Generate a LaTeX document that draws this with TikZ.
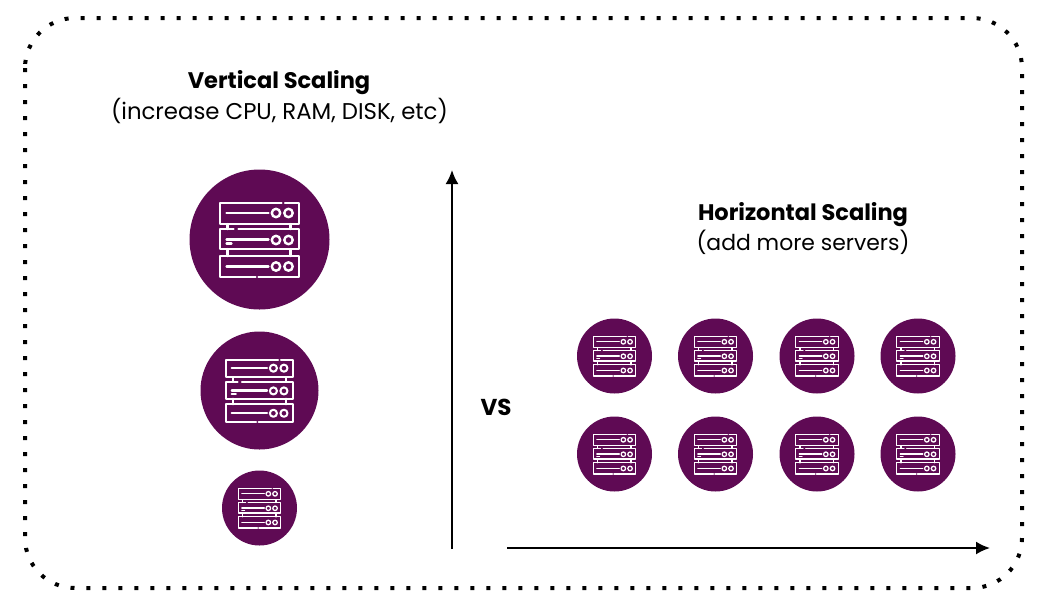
\documentclass[tikz,border=0pt]{standalone}
\usepackage{fontspec}
\setmainfont{Poppins}
\usetikzlibrary{arrows.meta}
\definecolor{plum}{HTML}{5F0A54}
\tikzset{
  plumdisc/.style={circle,fill=plum,draw=none,inner sep=0pt},
  frameline/.style={draw=black,line width=4pt,dash pattern=on 4pt off 12pt},
  axisline/.style={draw=black,line width=2pt,-{Latex[length=14pt,width=13pt]}},
  title/.style={font=\fontsize{22.5}{26}\selectfont\bfseries,inner sep=0pt},
  subtitle/.style={font=\fontsize{22.6}{26}\selectfont,inner sep=0pt},
  iconline/.style={draw=white,line cap=round,line join=round}
}
\newcommand{\serverdisc}[4]{% name, x, y, radius
  \node[plumdisc,minimum size=#4*2pt] (#1) at (#2,#3) {};
  \pgfmathsetmacro{\iconk}{#4/70}
  \begin{scope}[shift={(#1.center)},scale=\iconk,iconline,line width=\iconk*2.4pt]
    % row outlines, each with its small gap
    \draw (25.5,-36.5) -- (39.5,-36.5) -- (39.5,-15.5) -- (-39.5,-15.5) -- (-39.5,-36.5) -- (22,-36.5);
    \draw (-21,-10.5) -- (39.5,-10.5) -- (39.5,9.5) -- (-39.5,9.5) -- (-39.5,-10.5) -- (-26,-10.5);
    \draw (-1,37.5) -- (39.5,37.5) -- (39.5,16.5) -- (-39.5,16.5) -- (-39.5,37.5) -- (-4,37.5);
    % links between rows
    \draw (-32,-15.5) -- (-32,-10.5) (31,-15.5) -- (31,-10.5);
    \draw (-32,9.5) -- (-32,16.5) (31,9.5) -- (31,16.5);
    % bars
    \draw (-33,-26.5) -- (9,-26.5);
    \draw (-33,0) -- (9,0) (-33,4) -- (-28,4);
    \draw (-33,27) -- (9,27);
    % knobs
    \foreach \ky in {-26.5,0.5,27}{
      \draw (16.5,\ky) circle[radius=4.2];
      \draw (29,\ky) circle[radius=4.2];
    }
  \end{scope}
}
\begin{document}
\begin{tikzpicture}[x=1pt,y=-1pt]
\useasboundingbox (0,0) rectangle (1048,611);
\draw[frameline,rounded corners=50pt] (25,18) rectangle (1022,588);

\node[title] (vtitle) at (279,82.5) {Vertical Scaling};
\node[font=\fontsize{22.8}{26}\selectfont,inner sep=0pt] (vsub) at (279.5,110.5) {(increase CPU, RAM, DISK, etc)};
\node[title] (htitle) at (803,214.5) {Horizontal Scaling};
\node[font=\fontsize{21.9}{26}\selectfont,inner sep=0pt] (hsub) at (803,242.5) {(add more servers)};
\node[font=\fontsize{23}{26}\selectfont\bfseries,inner sep=0pt] (vs) at (496,407.5) {VS};

\serverdisc{vbig}{259.5}{239.5}{70}
\serverdisc{vmid}{259.5}{390.5}{59}
\serverdisc{vsmall}{259.5}{508}{37.5}

\serverdisc{ha}{614.5}{356}{37.5}
\serverdisc{hb}{715.5}{356}{37.5}
\serverdisc{hc}{817}{356}{37.5}
\serverdisc{hd}{918}{356}{37.5}
\serverdisc{he}{614.5}{454}{37.5}
\serverdisc{hf}{715.5}{454}{37.5}
\serverdisc{hg}{817}{454}{37.5}
\serverdisc{hh}{918}{454}{37.5}

\coordinate (vstart) at (452,549);
\coordinate (vend) at (452,170);
\coordinate (hstart) at (507,548);
\coordinate (hend) at (990,548);
\draw[axisline] (vstart) -- (vend);
\draw[axisline] (hstart) -- (hend);
\end{tikzpicture}
\end{document}
